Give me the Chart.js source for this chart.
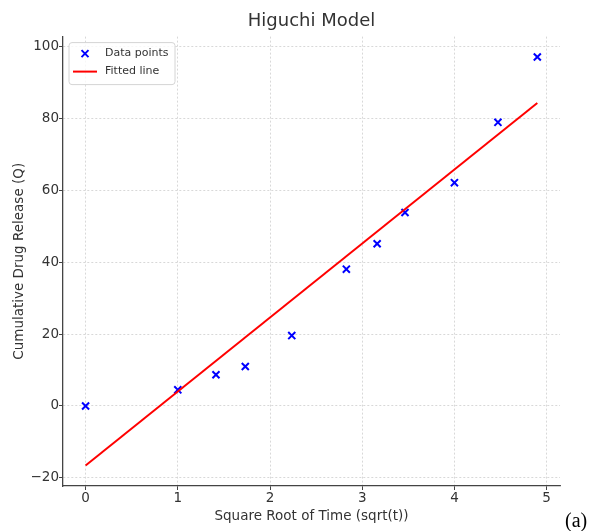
<!DOCTYPE html>
<html>
<head>
<meta charset="utf-8">
<title>Higuchi Model</title>
<script src="https://cdn.jsdelivr.net/npm/chart.js@4.4.1/dist/chart.umd.min.js"></script>
<style>
  html, body { margin: 0; padding: 0; background: #fff; }
  #wrap { position: relative; width: 595px; height: 531px; }
</style>
</head>
<body>
<div id="wrap"><canvas id="higuchiChart"></canvas></div>
<script>
// square root of sampling time and cumulative release
const sqrtTime = [0, 1, 1.414, 1.732, 2.236, 2.828, 3.162, 3.464, 4, 4.472, 4.899];
const releaseQ = [0, 4.5, 8.7, 11.0, 19.6, 38.1, 45.2, 53.9, 62.2, 79.0, 97.2];

// fitted Higuchi line, ends of the range
const fitX = [0, 4.899];
const fitQ = [-16.6, 84.4];

const xTicks = [0, 1, 2, 3, 4, 5];
const yTicks = [-20, 0, 20, 40, 60, 80, 100];

const FONT = '"DejaVu Sans", sans-serif';
const TEXT = '#333';

// legend box drawn inside the plot, plus the panel letter
const extras = {
    id: 'extras',
    afterDraw(chart) {
        const ctx = chart.ctx;
        const a = chart.chartArea;
        const bx = a.left + 6, by = a.top + 6, bw = 106, bh = 42;

        ctx.save();
        ctx.beginPath();
        ctx.roundRect(bx, by, bw, bh, 3);
        ctx.fillStyle = 'rgba(255,255,255,0.8)';
        ctx.fill();
        ctx.strokeStyle = '#d4d4d4';
        ctx.lineWidth = 1;
        ctx.stroke();

        // marker
        const mx = bx + 16, my = by + 11, r = 3.5;
        ctx.strokeStyle = '#0000ff';
        ctx.lineWidth = 2;
        ctx.beginPath();
        ctx.moveTo(mx - r, my - r); ctx.lineTo(mx + r, my + r);
        ctx.moveTo(mx - r, my + r); ctx.lineTo(mx + r, my - r);
        ctx.stroke();

        // line sample
        const ly = by + 29;
        ctx.strokeStyle = '#ff0000';
        ctx.beginPath();
        ctx.moveTo(bx + 4, ly); ctx.lineTo(bx + 28, ly);
        ctx.stroke();

        ctx.fillStyle = TEXT;
        ctx.font = '11px ' + FONT;
        ctx.textBaseline = 'middle';
        ctx.textAlign = 'left';
        ctx.fillText('Data points', bx + 36, my);
        ctx.fillText('Fitted line', bx + 36, ly);

        ctx.fillStyle = '#000';
        ctx.font = '20px "Liberation Serif", "DejaVu Serif", serif';
        ctx.textBaseline = 'alphabetic';
        ctx.fillText('(a)', 565, 527);
        ctx.restore();
    }
};

const minus = v => String(v).replace('-', '\u2212');

new Chart(document.getElementById('higuchiChart'), {
    type: 'scatter',
    data: {
        datasets: [
            {
                label: 'Data points',
                data: sqrtTime.map((x, i) => ({ x: x, y: releaseQ[i] })),
                pointStyle: 'crossRot',
                pointRadius: 5,
                pointBorderWidth: 2,
                borderColor: '#0000ff',
                backgroundColor: '#0000ff',
                order: 1
            },
            {
                label: 'Fitted line',
                data: fitX.map((x, i) => ({ x: x, y: fitQ[i] })),
                showLine: true,
                borderColor: '#ff0000',
                borderWidth: 2,
                pointRadius: 0,
                order: 0
            }
        ]
    },
    options: {
        responsive: true,
        maintainAspectRatio: false,
        animation: false,
        layout: { padding: { left: 0, right: 35, top: 0, bottom: 0 } },
        plugins: {
            legend: { display: false },
            tooltip: { enabled: false },
            title: {
                display: true,
                text: 'Higuchi Model',
                fullSize: false,
                color: TEXT,
                font: { family: FONT, size: 18, weight: 'normal' },
                padding: { top: 11, bottom: 4 }
            }
        },
        scales: {
            x: {
                type: 'linear',
                min: -0.245,
                max: 5.145,
                afterBuildTicks: s => { s.ticks = xTicks.map(v => ({ value: v })); },
                afterFit: s => { s.height = 45; },
                ticks: {
                    color: TEXT,
                    padding: 0,
                    font: { family: FONT, size: 13.5 },
                    callback: v => minus(v)
                },
                grid: {
                    color: '#cfcfcf',
                    lineWidth: 0.8,
                    tickColor: '#444',
                    tickLength: 4,
                    tickWidth: 1,
                    tickBorderDash: []
                },
                border: { color: '#444', width: 1.3, dash: [2, 2] },
                title: {
                    display: true,
                    text: 'Square Root of Time (sqrt(t))',
                    color: TEXT,
                    font: { family: FONT, size: 13.5 },
                    padding: { top: 0, bottom: 6 }
                }
            },
            y: {
                type: 'linear',
                min: -22.29,
                max: 102.89,
                afterBuildTicks: s => { s.ticks = yTicks.map(v => ({ value: v })); },
                afterFit: s => { s.width = 63; },
                ticks: {
                    color: TEXT,
                    padding: 0,
                    font: { family: FONT, size: 13.5 },
                    callback: v => minus(v)
                },
                grid: {
                    color: '#cfcfcf',
                    lineWidth: 0.8,
                    tickColor: '#444',
                    tickLength: 4,
                    tickWidth: 1,
                    tickBorderDash: []
                },
                border: { color: '#444', width: 1.3, dash: [2, 2] },
                title: {
                    display: true,
                    text: 'Cumulative Drug Release (Q)',
                    color: TEXT,
                    font: { family: FONT, size: 13.5 },
                    padding: { top: 11, bottom: 0 }
                }
            }
        }
    },
    plugins: [extras]
});
</script>
</body>
</html>
